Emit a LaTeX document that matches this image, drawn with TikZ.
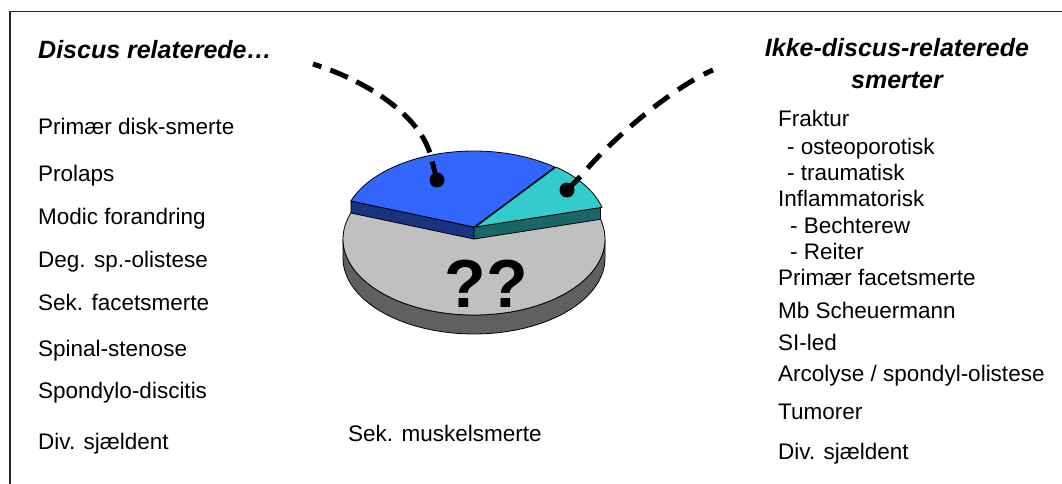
\documentclass[tikz,border=0pt]{standalone}
\usepackage{fontspec}
\setmainfont{Liberation Sans}
\definecolor{bluetop}{HTML}{3366FF}
\definecolor{blueside}{HTML}{1A3380}
\definecolor{tealtop}{HTML}{33CCCC}
\definecolor{tealside}{HTML}{1A6666}
\definecolor{greytop}{HTML}{C0C0C0}
\definecolor{greyside}{HTML}{606060}
\begin{document}
\begin{tikzpicture}[x=1pt,y=-1pt,
  txt/.style={anchor=base west, inner sep=0pt, font=\fontsize{22.5}{27}\selectfont},
  head/.style={inner sep=0pt, font=\fontsize{25}{32}\selectfont\bfseries\itshape},
  conn/.style={line width=5pt, dash pattern=on 19pt off 11pt},
  connl/.style={line width=5pt, dash pattern=on 19pt off 9.5pt},
  dot/.style={circle, fill=black, inner sep=0pt, minimum size=15pt},
  rim/.style={draw=black, line width=0.8pt}]
\useasboundingbox (0,0) rectangle (1062,484);
% frame
\draw[line width=1.5pt, draw=black!85] (10,484) -- (10,11.5) -- (1062,11.5);
% pie: grey body
\filldraw[fill=greyside, rim] plot[domain=0:180,samples=60] ({474+131*cos(\x)},{258+76*sin(\x)}) -- plot[domain=180:0,samples=60] ({474+131*cos(\x)},{239+76*sin(\x)}) -- cycle;
\filldraw[fill=greytop, rim] (474,239) ellipse [x radius=131pt, y radius=76pt];
% raised slices
\filldraw[fill=blueside, rim] (474,227) -- (350.9,201) -- (350.9,213) -- (474,239) -- cycle;
\filldraw[fill=tealside, rim] (474,227) -- (600.5,207.3) -- (600.5,219.3) -- (474,239) -- cycle;
\filldraw[fill=bluetop, rim] (474,227) -- plot[domain=200:308,samples=50] ({474+131*cos(\x)},{227+76*sin(\x)}) -- cycle;
\filldraw[fill=tealtop, rim] (475.5,227) -- plot[domain=308:345,samples=30] ({475.5+131*cos(\x)},{227+76*sin(\x)}) -- cycle;
\node[font=\fontsize{68}{72}\selectfont\bfseries] (qq) at (486,284) {??};
% connectors
\node[dot] (bd) at (437,180) {};
\coordinate (lstub) at (432,161);
\coordinate (ls) at (313,64);
\draw[connl] (bd.center) -- (lstub) .. controls (424,118) and (370,82) .. (ls);
\node[dot] (td) at (567,190) {};
\coordinate (rstub) at (581,176);
\coordinate (rs) at (713,70);
\draw[conn] (td.center) -- (rstub) .. controls (612,138) and (675,86) .. (rs);
% left texts
\node[head, anchor=base west] (lh) at (38,59) {Discus relaterede…};
\node[txt] (l1) at (38,135) {Primær disk-smerte};
\node[txt] (l2) at (38,181) {Prolaps};
\node[txt] (l3) at (38,224) {Modic forandring};
\node[txt] (l4) at (38,267) {Deg. sp.-olistese};
\node[txt] (l5) at (38,310) {Sek. facetsmerte};
\node[txt] (l6) at (38,356) {Spinal-stenose};
\node[txt] (l7) at (38,398) {Spondylo-discitis};
\node[txt] (l8) at (38,449) {Div. sjældent};
\node[txt] (mid) at (348,441) {Sek. muskelsmerte};
% right texts
\node[head, align=center] (rh) at (897,64) {Ikke-discus-relaterede\\smerter};
\node[txt] (r1) at (778,126) {Fraktur};
\node[txt] (r2) at (787,154) {- osteoporotisk};
\node[txt] (r3) at (787,180) {- traumatisk};
\node[txt] (r4) at (778,206) {Inflammatorisk};
\node[txt] (r5) at (790,233) {- Bechterew};
\node[txt] (r6) at (790,259) {- Reiter};
\node[txt] (r7) at (778,285) {Primær facetsmerte};
\node[txt] (r8) at (778,318) {Mb Scheuermann};
\node[txt] (r9) at (778,350) {SI-led};
\node[txt] (r10) at (778,381) {Arcolyse / spondyl-olistese};
\node[txt] (r11) at (778,419) {Tumorer};
\node[txt] (r12) at (778,459) {Div. sjældent};
\end{tikzpicture}
\end{document}
